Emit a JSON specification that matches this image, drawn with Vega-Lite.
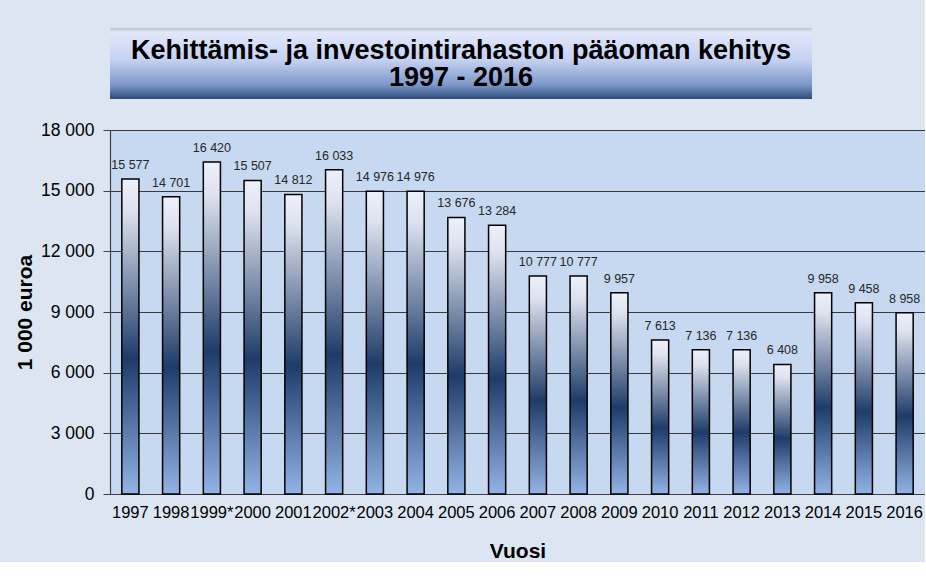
{
  "$schema": "https://vega.github.io/schema/vega-lite/v6.json",
  "background": "#dce6f2",
  "padding": {"left": 14, "top": 28, "right": 0, "bottom": 0},
  "autosize": {"type": "pad"},
  "config": {
    "locale": {"number": {"decimal": ",", "thousands": " ", "grouping": [3], "currency": ["", " €"]}},
    "font": "Liberation Sans",
    "view": {"stroke": null}
  },
  "bounds": "flush",
  "spacing": 31,
  "vconcat": [
    {
      "width": 702,
      "height": 71,
      "data": {"values": [{"part": "title"}]},
      "layer": [
        {
          "mark": {
            "type": "rect",
            "color": {
              "gradient": "linear", "x1": 0, "y1": 0, "x2": 0, "y2": 1,
              "stops": [
                {"offset": 0, "color": "#b9c7c4"},
                {"offset": 0.06, "color": "#e2e7fb"},
                {"offset": 0.45, "color": "#c5d1f1"},
                {"offset": 0.8, "color": "#7d98c8"},
                {"offset": 1, "color": "#2c4c7c"}
              ]
            }
          },
          "encoding": {}
        },
        {
          "mark": {
            "type": "text",
            "text": ["Kehittämis- ja investointirahaston pääoman kehitys", "1997 - 2016"],
            "font": "Liberation Sans",
            "fontWeight": "bold",
            "fontSize": 27,
            "lineHeight": 27,
            "align": "center",
            "baseline": "alphabetic",
            "dy": -5,
            "color": "black"
          },
          "encoding": {}
        }
      ]
    },
    {
      "width": 815,
      "height": 364,
      "view": {"fill": "#c6d9f1", "stroke": null},
      "data": {
        "values": [
          {"vuosi": "1997", "arvo": 15577},
          {"vuosi": "1998", "arvo": 14701},
          {"vuosi": "1999*", "arvo": 16420},
          {"vuosi": "2000", "arvo": 15507},
          {"vuosi": "2001", "arvo": 14812},
          {"vuosi": "2002*", "arvo": 16033},
          {"vuosi": "2003", "arvo": 14976},
          {"vuosi": "2004", "arvo": 14976},
          {"vuosi": "2005", "arvo": 13676},
          {"vuosi": "2006", "arvo": 13284},
          {"vuosi": "2007", "arvo": 10777},
          {"vuosi": "2008", "arvo": 10777},
          {"vuosi": "2009", "arvo": 9957},
          {"vuosi": "2010", "arvo": 7613},
          {"vuosi": "2011", "arvo": 7136},
          {"vuosi": "2012", "arvo": 7136},
          {"vuosi": "2013", "arvo": 6408},
          {"vuosi": "2014", "arvo": 9958},
          {"vuosi": "2015", "arvo": 9458},
          {"vuosi": "2016", "arvo": 8958}
        ]
      },
      "encoding": {
        "x": {
          "field": "vuosi", "type": "nominal", "sort": null,
          "scale": {"paddingInner": 0.58, "paddingOuter": 0.29},
          "axis": {
            "title": "Vuosi", "labelAngle": 0, "labelOverlap": false,
            "labelFontSize": 16.5, "labelColor": "black", "labelPadding": 10,
            "ticks": false, "domainColor": "#404040", "domainWidth": 1.2,
            "titleFontSize": 21, "titleFontWeight": "bold", "titleColor": "black", "titlePadding": 20
          }
        },
        "y": {
          "field": "arvo", "type": "quantitative",
          "scale": {"domain": [0, 18000], "nice": false},
          "axis": {
            "title": "1 000 euroa", "values": [0, 3000, 6000, 9000, 12000, 15000, 18000],
            "format": ",d",
            "labelFontSize": 17.5, "labelColor": "black", "labelPadding": 9,
            "tickSize": 7, "tickColor": "#404040", "domainColor": "#404040", "domainWidth": 1.2,
            "gridColor": "#3a3a3a", "gridWidth": 1,
            "titleFontSize": 21, "titleFontWeight": "bold", "titleColor": "black", "titlePadding": 5
          }
        }
      },
      "layer": [
        {
          "mark": {
            "type": "bar",
            "stroke": "black", "strokeWidth": 1.5,
            "color": {
              "gradient": "linear", "x1": 0, "y1": 0, "x2": 0, "y2": 1,
              "stops": [
                {"offset": 0, "color": "#eef1fa"},
                {"offset": 0.1, "color": "#dde2ef"},
                {"offset": 0.57, "color": "#1e3c69"},
                {"offset": 1, "color": "#93b3e6"}
              ]
            }
          }
        },
        {
          "mark": {"type": "text", "dy": -10, "baseline": "alphabetic", "fontSize": 12.5, "color": "#262626"},
          "encoding": {"text": {"field": "arvo", "type": "quantitative", "format": ",d"}}
        }
      ]
    }
  ]
}
